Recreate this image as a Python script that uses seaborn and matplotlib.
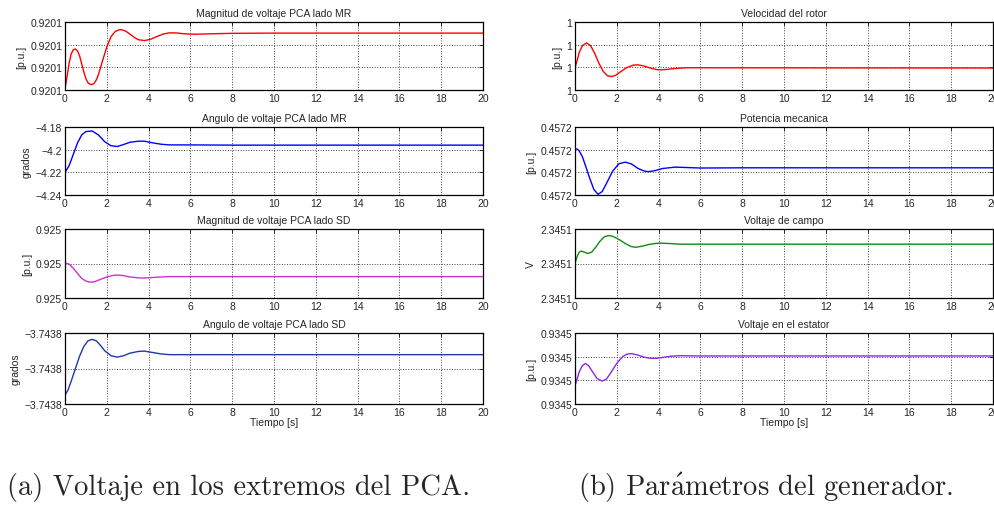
import matplotlib
matplotlib.use('Agg')
import matplotlib.pyplot as plt
import seaborn as sns

# --- data (time in s, value in plot units) ---
t_mag_mr = [0, 0.1, 0.2, 0.3, 0.4, 0.5, 0.6, 0.7, 0.8, 0.9, 1.0, 1.1, 1.2, 1.3, 1.4, 1.5, 1.6, 1.8, 2.0,
            2.2, 2.4, 2.6, 2.7, 2.9, 3.1, 3.3, 3.5, 3.8, 4.1, 4.4, 4.7, 5.0, 5.3, 5.7, 6.2, 7, 8, 10, 20]
v_mag_mr = [0.05, 0.6, 1.2, 1.6, 1.78, 1.81, 1.72, 1.5, 1.15, 0.8, 0.5, 0.32, 0.25, 0.24, 0.3, 0.45, 0.68, 1.3, 1.9,
            2.35, 2.58, 2.66, 2.66, 2.6, 2.47, 2.33, 2.22, 2.18, 2.24, 2.36, 2.47, 2.52, 2.52, 2.48, 2.46, 2.48, 2.5, 2.51, 2.51]

t_ang_mr = [0, 0.2, 0.4, 0.6, 0.8, 1.0, 1.3, 1.6, 1.9, 2.2, 2.5, 2.8, 3.1, 3.5, 3.8, 4.2, 4.6, 5.0, 6, 8, 20]
v_ang_mr = [-4.220, -4.214, -4.204, -4.194, -4.187, -4.184, -4.1835, -4.187, -4.193, -4.1965, -4.1972, -4.1955,
            -4.1935, -4.1925, -4.1925, -4.194, -4.1952, -4.1958, -4.1958, -4.196, -4.196]

t_mag_sd = [0, 0.2, 0.4, 0.6, 0.8, 1.0, 1.2, 1.4, 1.7, 2.0, 2.3, 2.5, 2.8, 3.1, 3.5, 3.8, 4.2, 4.6, 5.0, 6, 20]
v_mag_sd = [1.02, 0.98, 0.86, 0.71, 0.57, 0.49, 0.46, 0.47, 0.54, 0.61, 0.655, 0.665, 0.65, 0.61, 0.585, 0.58,
            0.595, 0.61, 0.62, 0.62, 0.62]

t_ang_sd = [0, 0.15, 0.3, 0.5, 0.7, 0.9, 1.1, 1.3, 1.5, 1.7, 1.9, 2.2, 2.5, 2.8, 3.1, 3.5, 3.8, 4.2, 4.6, 5, 6, 20]
v_ang_sd = [0.25, 0.4, 0.65, 1.0, 1.35, 1.62, 1.78, 1.82, 1.78, 1.65, 1.5, 1.36, 1.32, 1.36, 1.43, 1.48, 1.49,
            1.45, 1.41, 1.39, 1.39, 1.39]

t_vel = [0, 0.1, 0.2, 0.35, 0.55, 0.75, 0.95, 1.15, 1.35, 1.55, 1.75, 1.95, 2.2, 2.5, 2.8, 3.0, 3.3, 3.6, 3.9,
         4.1, 4.4, 4.8, 5.3, 6, 20]
v_vel = [0.98, 1.3, 1.65, 1.95, 2.08, 1.95, 1.6, 1.17, 0.82, 0.63, 0.59, 0.65, 0.82, 1.0, 1.1, 1.11, 1.06, 0.97,
         0.9, 0.89, 0.91, 0.95, 0.98, 0.98, 0.97]

t_pmec = [0, 0.1, 0.2, 0.35, 0.5, 0.7, 0.9, 1.1, 1.3, 1.5, 1.8, 2.1, 2.4, 2.7, 3.0, 3.3, 3.5, 3.8, 4.2, 4.8,
          5.4, 6, 8, 20]
v_pmec = [2.03, 2.03, 1.95, 1.7, 1.3, 0.75, 0.25, 0.03, 0.15, 0.5, 1.05, 1.38, 1.45, 1.37, 1.18, 1.06, 1.03,
          1.07, 1.17, 1.23, 1.21, 1.19, 1.2, 1.2]

t_campo = [0, 0.1, 0.2, 0.3, 0.45, 0.6, 0.8, 1.0, 1.2, 1.4, 1.6, 1.8, 2.1, 2.4, 2.7, 2.9, 3.2, 3.6, 4.0, 4.5,
           5, 6, 20]
v_campo = [1.0, 1.2, 1.33, 1.36, 1.33, 1.29, 1.33, 1.48, 1.65, 1.77, 1.81, 1.79, 1.7, 1.58, 1.49, 1.47, 1.5,
           1.56, 1.59, 1.58, 1.56, 1.56, 1.56]

t_estator = [0, 0.03, 0.1, 0.2, 0.35, 0.5, 0.65, 0.85, 1.05, 1.3, 1.5, 1.7, 2.0, 2.3, 2.5, 2.7, 3.0, 3.3, 3.6,
             3.9, 4.2, 4.6, 5.0, 6, 20]
v_estator = [2.03, 0.85, 1.05, 1.35, 1.62, 1.71, 1.62, 1.35, 1.08, 0.97, 1.05, 1.3, 1.72, 2.02, 2.11, 2.13, 2.07,
             1.98, 1.93, 1.93, 1.97, 2.02, 2.04, 2.03, 2.03]

# tick labels as printed on the reference
ticks_4 = [0, 1, 2, 3]
ticks_3 = [0, 1, 2]
lbl_mag_mr = ['0.9201'] * 4
ticks_ang_mr = [-4.24, -4.22, -4.2, -4.18]
lbl_ang_mr = ['\u22124.24', '\u22124.22', '\u22124.2', '\u22124.18']
lbl_mag_sd = ['0.925'] * 3
lbl_ang_sd = ['\u22123.7438'] * 3
lbl_vel = ['1'] * 4
lbl_pmec = ['0.4572'] * 4
lbl_campo = ['2.3451'] * 3
lbl_estator = ['0.9345'] * 4

x_ticks = [0, 2, 4, 6, 8, 10, 12, 14, 16, 18, 20]

sns.set_style('white')
plt.rcParams['font.family'] = ['Liberation Sans', 'DejaVu Sans']
plt.rcParams['mathtext.fontset'] = 'cm'

fig = plt.figure(figsize=(9.95, 5.10), dpi=100)

W, H = 995.0, 510.0
rows = [(23, 91), (128, 196), (230, 299), (334, 405)]
cols = [(65, 483), (575, 993)]

panels = [
    # col, row, title, ylabel, t, v, color, yticks, yticklabels, ylim
    (0, 0, 'Magnitud de voltaje PCA lado MR', '[p.u.]', t_mag_mr, v_mag_mr, '#ff0000', ticks_4, lbl_mag_mr, (0, 3)),
    (0, 1, 'Angulo de voltaje PCA lado MR', 'grados', t_ang_mr, v_ang_mr, '#0000ff', ticks_ang_mr, lbl_ang_mr, (-4.24, -4.18)),
    (0, 2, 'Magnitud de voltaje PCA lado SD', '[p.u.]', t_mag_sd, v_mag_sd, '#d22fd2', ticks_3, lbl_mag_sd, (0, 2)),
    (0, 3, 'Angulo de voltaje PCA lado SD', 'grados', t_ang_sd, v_ang_sd, '#2038a8', ticks_3, lbl_ang_sd, (0, 2)),
    (1, 0, 'Velocidad del rotor', '[p.u.]', t_vel, v_vel, '#ff0000', ticks_4, lbl_vel, (0, 3)),
    (1, 1, 'Potencia mecanica', '[p.u.]', t_pmec, v_pmec, '#0000ff', ticks_4, lbl_pmec, (0, 3)),
    (1, 2, 'Voltaje de campo', 'V', t_campo, v_campo, '#118a11', ticks_3, lbl_campo, (0, 2)),
    (1, 3, 'Voltaje en el estator', '[p.u.]', t_estator, v_estator, '#8a2be2', ticks_4, lbl_estator, (0, 3)),
]

for col, row, title, ylab, t, v, color, yt, ytl, ylim in panels:
    x0, x1 = cols[col]
    top, bot = rows[row]
    ax = fig.add_axes([x0 / W, 1 - bot / H, (x1 - x0) / W, (bot - top) / H])
    sns.lineplot(x=t, y=v, ax=ax, color=color, linewidth=1.0)
    ax.set_xlim(0, 20)
    ax.set_ylim(*ylim)
    ax.set_xticks(x_ticks)
    ax.set_yticks(yt)
    ax.set_yticklabels(ytl)
    ax.grid(True, linestyle=':', color='#444444', linewidth=0.7)
    ax.tick_params(direction='in', length=3, width=0.7, labelsize=7.5, top=True, right=True, pad=2)
    for s in ax.spines.values():
        s.set_color('black')
        s.set_linewidth(0.9)
    ax.set_title(title, fontsize=7.5, pad=4)
    ax.set_ylabel(ylab, fontsize=7.5, labelpad=3)
    if row == 3:
        ax.set_xlabel('Tiempo [s]', fontsize=7.5, labelpad=0)
    else:
        ax.set_xlabel('')

fig.text(239 / W, 1 - 488 / H, '(a) Voltaje en los extremos del PCA.', ha='center', va='center',
         fontsize=20.5, family='cmr10')
fig.text(766 / W, 1 - 488 / H, r'(b) Par$\mathrm{\acute{a}}$metros del generador.', ha='center', va='center',
         fontsize=20.5, family='cmr10')

fig.savefig('out.png', dpi=100)
